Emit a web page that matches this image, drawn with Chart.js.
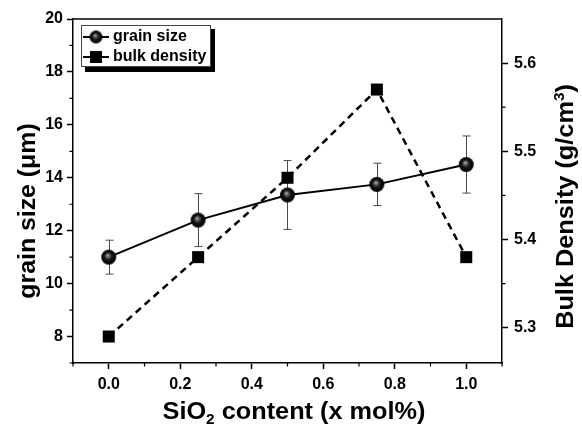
<!DOCTYPE html>
<html>
<head>
<meta charset="utf-8">
<script src="https://cdn.jsdelivr.net/npm/chart.js@4.4.1/dist/chart.umd.min.js"></script>
<style>
  html, body { margin: 0; padding: 0; background: #fff; }
</style>
</head>
<body>
<canvas id="chart" width="582" height="428"></canvas>
<script>
// SiO2 content (x mol%)
const siContent = [0, 0.25, 0.5, 0.75, 1.0];
// grain size (um) and its error bars
const grainSize = [11.0, 12.4, 13.35, 13.75, 14.5];
const grainErr = [0.64, 1.0, 1.3, 0.8, 1.08];
// bulk density (g/cm3)
const bulkDensity = [5.29, 5.38, 5.47, 5.57, 5.38];

// ticks
const xTicks = [0, 0.2, 0.4, 0.6, 0.8, 1.0];
const xMinor = [-0.1, 0.1, 0.3, 0.5, 0.7, 0.9, 1.1];
const yTicks = [8, 10, 12, 14, 16, 18, 20];
const yMinor = [7, 9, 11, 13, 15, 17, 19];
const y2Ticks = [5.3, 5.4, 5.5, 5.6];
const y2Minor = [5.35, 5.45, 5.55];

const FONT = '"Liberation Sans", Arial, sans-serif';

// bola hitam buat marker grain size
function makeBall(r) {
    const c = document.createElement('canvas');
    const s = Math.ceil(r * 2 + 2);
    c.width = s; c.height = s;
    const g = c.getContext('2d');
    const m = s / 2;
    const grad = g.createRadialGradient(m - r * 0.15, m - r * 0.25, 0, m, m, r);
    grad.addColorStop(0, '#c8c8c8');
    grad.addColorStop(0.2, '#6a6a6a');
    grad.addColorStop(0.55, '#111');
    grad.addColorStop(1, '#000');
    g.fillStyle = grad;
    g.beginPath(); g.arc(m, m, r, 0, Math.PI * 2); g.fill();
    return c;
}
const ball = makeBall(7.5);
const smallBall = makeBall(6.5);

// teks dengan subscript / superscript
function drawRuns(ctx, runs, cx, cy, angle, size, stretch) {
    ctx.save();
    ctx.translate(cx, cy);
    ctx.rotate(angle);
    ctx.scale(stretch, 1);
    ctx.fillStyle = '#000';
    ctx.textBaseline = 'alphabetic';
    ctx.textAlign = 'left';
    let total = 0;
    runs.forEach(r => {
        ctx.font = 'bold ' + (r.small ? Math.round(size * 0.62) : size) + 'px ' + FONT;
        r.w = ctx.measureText(r.t).width;
        total += r.w;
    });
    let x = -total / 2;
    runs.forEach(r => {
        ctx.font = 'bold ' + (r.small ? Math.round(size * 0.62) : size) + 'px ' + FONT;
        ctx.fillText(r.t, x, r.dy || 0);
        x += r.w;
    });
    ctx.restore();
}

const decor = {
    id: 'decor',
    beforeDatasetsDraw(chart) {
        // error bar
        const ctx = chart.ctx, xs = chart.scales.x, ys = chart.scales.y;
        ctx.save();
        ctx.strokeStyle = '#4a4a4a';
        ctx.lineWidth = 1;
        siContent.forEach((v, i) => {
            const px = Math.round(xs.getPixelForValue(v)) + 0.5;
            const top = ys.getPixelForValue(grainSize[i] + grainErr[i]);
            const bot = ys.getPixelForValue(grainSize[i] - grainErr[i]);
            ctx.beginPath();
            ctx.moveTo(px, top); ctx.lineTo(px, bot);
            ctx.moveTo(px - 4, top); ctx.lineTo(px + 4, top);
            ctx.moveTo(px - 4, bot); ctx.lineTo(px + 4, bot);
            ctx.stroke();
        });
        ctx.restore();
    },
    afterDraw(chart) {
        const ctx = chart.ctx, a = chart.chartArea;
        const xs = chart.scales.x, ys = chart.scales.y, y2 = chart.scales.y2;
        ctx.save();
        ctx.strokeStyle = '#000';
        ctx.lineWidth = 1.5;
        // garis atas
        ctx.beginPath();
        ctx.moveTo(a.left, a.top); ctx.lineTo(a.right, a.top);
        ctx.stroke();
        // minor ticks
        ctx.lineWidth = 1.2;
        ctx.beginPath();
        xMinor.forEach(v => {
            const p = xs.getPixelForValue(v);
            ctx.moveTo(p, a.bottom); ctx.lineTo(p, a.bottom + 3.5);
        });
        yMinor.forEach(v => {
            const p = ys.getPixelForValue(v);
            ctx.moveTo(a.left - 3.5, p); ctx.lineTo(a.left, p);
        });
        y2Minor.forEach(v => {
            const p = y2.getPixelForValue(v);
            ctx.moveTo(a.right, p); ctx.lineTo(a.right + 3.5, p);
        });
        ctx.stroke();
        ctx.restore();

        // judul sumbu
        drawRuns(ctx, [{ t: 'SiO' }, { t: '2', small: true, dy: 5 }, { t: ' content (x mol%)' }],
            294, 418.5, 0, 23, 1.1);
        drawRuns(ctx, [{ t: 'grain size (\u03bcm)' }], 35, 211, -Math.PI / 2, 23, 1.08);
        drawRuns(ctx, [{ t: 'Bulk Density (g/cm' }, { t: '3', small: true, dy: -9 }, { t: ')' }],
            573, 206.5, -Math.PI / 2, 23, 1.1);

        // legend
        ctx.save();
        ctx.fillStyle = '#000';
        ctx.fillRect(85, 29, 130, 43);
        ctx.fillStyle = '#fff';
        ctx.fillRect(81, 25, 130, 42);
        ctx.strokeStyle = '#444';
        ctx.lineWidth = 1;
        ctx.strokeRect(81.5, 25.5, 129, 41);
        ctx.strokeStyle = '#000';
        ctx.lineWidth = 2;
        ctx.beginPath();
        ctx.moveTo(83, 37); ctx.lineTo(109, 37);
        ctx.moveTo(83, 57); ctx.lineTo(109, 57);
        ctx.stroke();
        ctx.drawImage(smallBall, 96 - smallBall.width / 2, 37 - smallBall.height / 2);
        ctx.fillStyle = '#000';
        ctx.fillRect(90, 51, 12, 12);
        ctx.font = 'bold 16px ' + FONT;
        ctx.textBaseline = 'middle';
        ctx.fillText('grain size', 113, 37);
        ctx.fillText('bulk density', 113, 57);
        ctx.restore();
    }
};

const tickFont = { family: FONT, size: 16, weight: 'bold' };

new Chart(document.getElementById('chart'), {
    type: 'line',
    data: {
        datasets: [
            {
                label: 'grain size',
                data: siContent.map((x, i) => ({ x: x, y: grainSize[i] })),
                yAxisID: 'y',
                borderColor: '#000',
                borderWidth: 2,
                pointStyle: ball,
                pointRadius: 7.5,
                tension: 0
            },
            {
                label: 'bulk density',
                data: siContent.map((x, i) => ({ x: x, y: bulkDensity[i] })),
                yAxisID: 'y2',
                borderColor: '#000',
                borderWidth: 2.5,
                borderDash: [7, 5],
                pointStyle: 'rect',
                pointRadius: 8.5,
                pointBackgroundColor: '#000',
                pointBorderColor: '#000',
                pointBorderWidth: 0,
                tension: 0
            }
        ]
    },
    options: {
        responsive: false,
        devicePixelRatio: 1,
        animation: false,
        layout: { padding: { top: 19, left: 0, right: 0, bottom: 0 } },
        plugins: { legend: { display: false }, tooltip: { enabled: false } },
        scales: {
            x: {
                type: 'linear',
                min: -0.1, max: 1.1,
                afterBuildTicks: s => { s.ticks = xTicks.map(v => ({ value: v })); },
                afterFit: s => { s.height = 65; },
                ticks: { color: '#000', font: tickFont, padding: 6, maxRotation: 0, autoSkip: false,
                    callback: v => Number(v).toFixed(1) },
                grid: { drawOnChartArea: false, tickLength: 6, tickColor: '#000', tickWidth: 1.5 },
                border: { color: '#000', width: 1.5 }
            },
            y: {
                position: 'left',
                min: 7, max: 20,
                afterBuildTicks: s => { s.ticks = yTicks.map(v => ({ value: v })); },
                afterFit: s => { s.width = 73; },
                ticks: { color: '#000', font: tickFont, padding: 4, callback: v => String(v) },
                grid: { drawOnChartArea: false, tickLength: 6, tickColor: '#000', tickWidth: 1.5 },
                border: { color: '#000', width: 1.5 }
            },
            y2: {
                position: 'right',
                min: 5.26, max: 5.65,
                afterBuildTicks: s => { s.ticks = y2Ticks.map(v => ({ value: v })); },
                afterFit: s => { s.width = 80; },
                ticks: { color: '#000', font: tickFont, padding: 6, callback: v => Number(v).toFixed(1) },
                grid: { drawOnChartArea: false, tickLength: 6, tickColor: '#000', tickWidth: 1.5 },
                border: { color: '#000', width: 1.5 }
            }
        }
    },
    plugins: [decor]
});
</script>
</body>
</html>
